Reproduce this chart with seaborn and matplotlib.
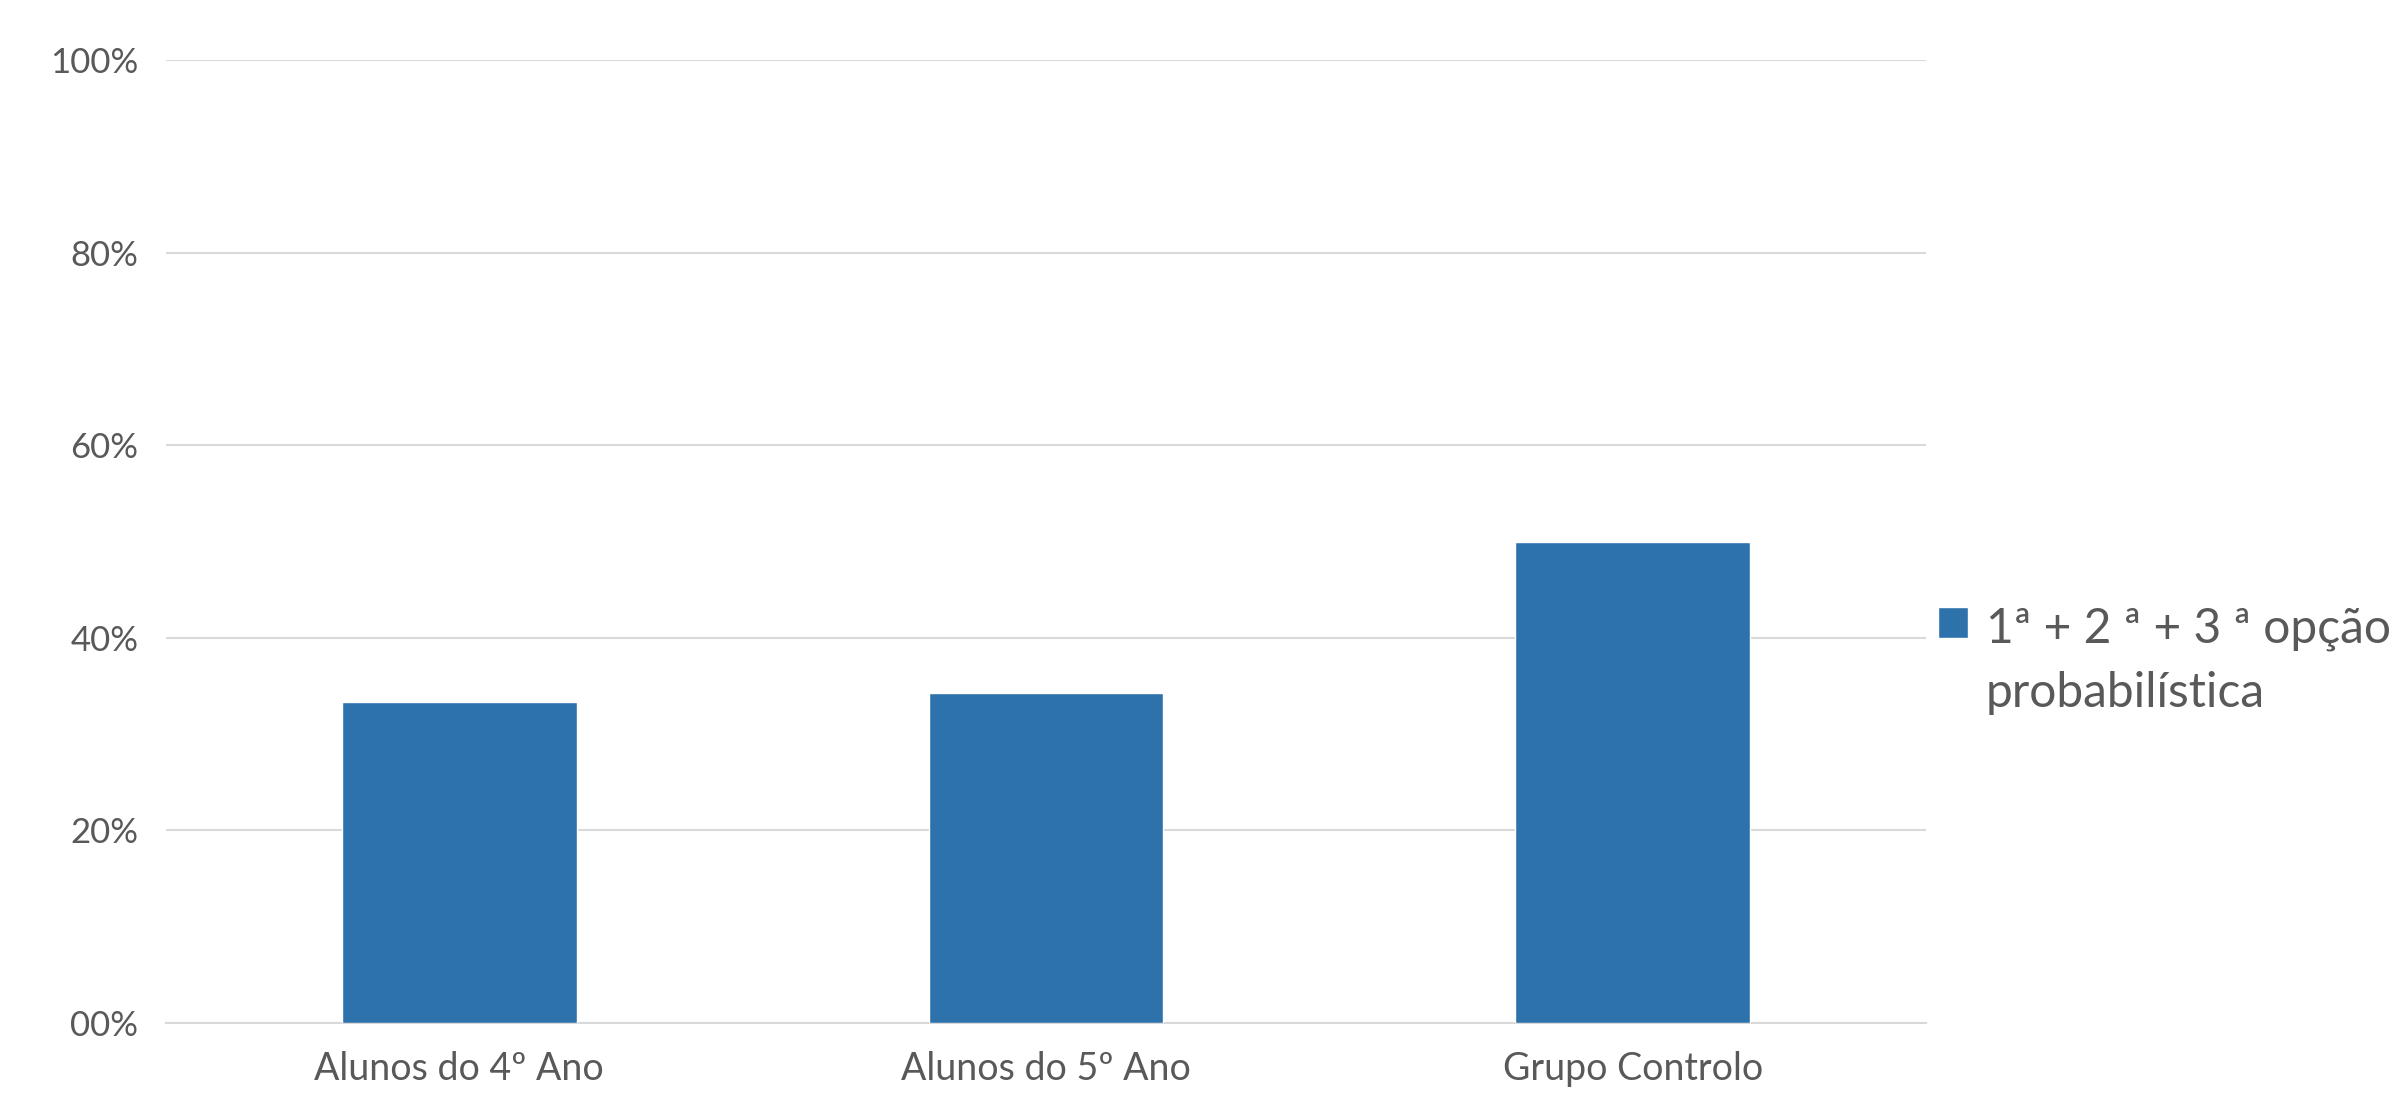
import matplotlib
matplotlib.use("Agg")
import matplotlib.pyplot as plt
import seaborn as sns
import pandas as pd
from matplotlib.offsetbox import HPacker

categories = ["Alunos do 4º Ano", "Alunos do 5º Ano", "Grupo Controlo"]
values = [0.333, 0.343, 0.50]
series_name = "1ª + 2 ª + 3 ª opção\nprobabilística"
yticks = [0, 0.2, 0.4, 0.6, 0.8, 1.0]
ytick_labels = ["00%", "20%", "40%", "60%", "80%", "100%"]

sns.set_theme(style="white")
plt.rcParams["font.family"] = ["Lato", "DejaVu Sans"]

df = pd.DataFrame({"cat": categories, "val": values, "series": [series_name] * 3})

fig = plt.figure(figsize=(24.04, 11.08), dpi=100)
ax = fig.add_axes([166 / 2404, 1 - 1023 / 1108, (1926 - 166) / 2404, (1023 - 60) / 1108])

sns.barplot(data=df, x="cat", y="val", hue="series", palette=["#2E72AC"],
            width=0.4, ax=ax, zorder=3, saturation=1)

ax.set_ylim(0, 1.0)
ax.set_xlim(-0.5, 2.5)
ax.set_yticks(yticks)
ax.set_yticklabels(ytick_labels)
ax.yaxis.grid(True, color="#D9D9D9", linewidth=1.5, zorder=0)
ax.xaxis.grid(False)
for s in ["top", "right", "left"]:
    ax.spines[s].set_visible(False)
ax.spines["bottom"].set_color("#D9D9D9")
ax.spines["bottom"].set_linewidth(1.5)
ax.set_xlabel("")
ax.set_ylabel("")
ax.tick_params(axis="y", length=0, pad=20, labelsize=25, labelcolor="#595959")
ax.tick_params(axis="x", length=0, pad=20, labelsize=27, labelcolor="#595959")

handles, labels = ax.get_legend_handles_labels()
if ax.legend_:
    ax.legend_.remove()
leg = ax.legend(handles, labels, loc="upper left", bbox_to_anchor=(0.996, 0.452),
                frameon=False, fontsize=34.5, handlelength=0.62, handleheight=0.62,
                handletextpad=0.38, labelcolor="#595959", borderaxespad=0)
for t in leg.get_texts():
    t.set_linespacing(1.55)


def set_top(box):
    for c in box.get_children():
        if isinstance(c, HPacker):
            c.align = "top"
        if hasattr(c, "get_children"):
            set_top(c)


set_top(leg._legend_box)

fig.savefig("out.png", dpi=100, facecolor="white")
